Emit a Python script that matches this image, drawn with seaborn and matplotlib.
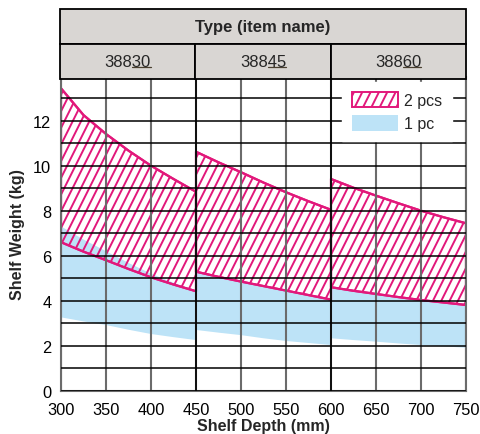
import numpy as np
import pandas as pd
import matplotlib
matplotlib.use("Agg")
import matplotlib.pyplot as plt
import matplotlib.hatch as mhatch
from matplotlib.path import Path
from matplotlib.patches import Patch, Rectangle
import seaborn as sns

# ---------------- data ----------------
types = ["38830", "38845", "38860"]
type_prefix = "388"
type_bounds = [300, 450, 600, 750]

depth_30 = [300, 325, 350, 375, 400, 425, 450]
two_hi_30 = [13.44, 12.25, 11.41, 10.67, 10.00, 9.41, 8.84]
two_lo_30 = [6.60, 6.18, 5.80, 5.41, 5.04, 4.72, 4.42]
one_hi_30 = [7.30, 6.72, 6.20, 5.68, 5.20, 4.80, 4.45]
one_lo_30 = [3.26, 3.08, 2.92, 2.71, 2.52, 2.38, 2.25]

depth_45 = [450, 475, 500, 525, 550, 575, 600]
two_hi_45 = [10.62, 10.15, 9.71, 9.25, 8.82, 8.42, 8.04]
two_lo_45 = [5.29, 5.06, 4.85, 4.65, 4.45, 4.25, 4.05]
one_hi_45 = [5.32, 5.09, 4.88, 4.68, 4.48, 4.28, 4.08]
one_lo_45 = [2.70, 2.58, 2.47, 2.33, 2.21, 2.12, 2.03]

depth_60 = [600, 625, 650, 675, 700, 725, 750]
two_hi_60 = [9.41, 9.02, 8.67, 8.33, 8.00, 7.71, 7.44]
two_lo_60 = [4.60, 4.44, 4.30, 4.16, 4.03, 3.92, 3.81]
one_hi_60 = [4.63, 4.47, 4.33, 4.19, 4.06, 3.95, 3.85]
one_lo_60 = [2.33, 2.25, 2.18, 2.10, 2.03, 1.97, 1.91]

x_ticks = [300, 350, 400, 450, 500, 550, 600, 650, 700, 750]
y_ticks = [0, 2, 4, 6, 8, 10, 12]
legend_labels = ["2 pcs", "1 pc"]

MAGENTA = "#E2187B"
BLUE = "#BDE3F7"
HEADER = "#D9D6D3"
VGRID = "#6b6b6b"


# steep "/" hatch (about 63 degrees) replacing the default 45-degree one
class SteepHatch(mhatch.HatchPatternBase):
    def __init__(self, hatch, density):
        self.num_lines = int(hatch.count('/') * density)
        if self.num_lines:
            self.ks = np.arange(-(self.num_lines // 2) - 1, self.num_lines + 1)
        else:
            self.ks = np.array([])
        self.num_vertices = 2 * len(self.ks)

    def set_vertices_and_codes(self, vertices, codes):
        x0 = self.ks / self.num_lines
        vertices[0::2, 0] = x0
        vertices[0::2, 1] = 0.0
        vertices[1::2, 0] = x0 + 0.5
        vertices[1::2, 1] = 1.0
        codes[0::2] = Path.MOVETO
        codes[1::2] = Path.LINETO


_i = mhatch._hatch_types.index(mhatch.NorthEastHatch)
mhatch._hatch_types[_i] = SteepHatch

sns.set_theme(style="white")
plt.rcParams["font.family"] = ["Liberation Sans", "DejaVu Sans"]
plt.rcParams["hatch.color"] = MAGENTA
plt.rcParams["hatch.linewidth"] = 1.4

segments = [
    (types[0], depth_30, two_hi_30, two_lo_30, one_hi_30, one_lo_30),
    (types[1], depth_45, two_hi_45, two_lo_45, one_hi_45, one_lo_45),
    (types[2], depth_60, two_hi_60, two_lo_60, one_hi_60, one_lo_60),
]
rows = []
for t, d, th, tl, oh, ol in segments:
    for i in range(len(d)):
        rows.append(dict(type=t, depth=d[i], two_hi=th[i], two_lo=tl[i],
                         one_hi=oh[i], one_lo=ol[i]))
df = pd.DataFrame(rows)

W, H = 480, 435
fig = plt.figure(figsize=(W / 100, H / 100), dpi=100)

ax_l, ax_r, ax_b, ax_t = 61, 466, 391.7, 78
ax = fig.add_axes([ax_l / W, 1 - ax_b / H, (ax_r - ax_l) / W, (ax_b - ax_t) / H])
ax.set_facecolor("white")

for t, grp in df.groupby("type", sort=False):
    ax.fill_between(grp["depth"], grp["one_lo"], grp["one_hi"],
                    facecolor=BLUE, edgecolor="none", linewidth=0, zorder=1)
for t, grp in df.groupby("type", sort=False):
    ax.fill_between(grp["depth"], grp["two_lo"], grp["two_hi"],
                    facecolor="none", edgecolor=MAGENTA, hatch="//",
                    linewidth=1.6, zorder=1.2)

sns.lineplot(data=df, x="depth", y="two_hi", hue="type",
             palette=[MAGENTA] * 3, legend=False, ax=ax, linewidth=1.6, zorder=1.3)
sns.lineplot(data=df, x="depth", y="two_lo", hue="type",
             palette=[MAGENTA] * 3, legend=False, ax=ax, linewidth=1.6, zorder=1.3)

ax.set_xlim(type_bounds[0], type_bounds[-1])
ax.set_ylim(0, (ax_b - ax_t) / 22.5)
ax.set_xticks(x_ticks)
ax.set_xticklabels([str(v) for v in x_ticks], fontsize=11.8)
ax.set_yticks(y_ticks)
ax.set_yticklabels([str(v) for v in y_ticks], fontsize=11.8)
ax.set_yticks(np.arange(1, 14, 1), minor=True)
ax.tick_params(axis="x", which="both", length=0, pad=8, colors="black")
ax.tick_params(axis="y", which="both", length=0, pad=7, colors="black")

ax.set_axisbelow(False)
ax.grid(axis="y", which="both", color="black", linewidth=1.1, zorder=2.5)
ax.grid(axis="x", which="major", color=VGRID, linewidth=1.5, zorder=2.5)
for b in type_bounds[1:-1]:
    ax.axvline(b, color="black", linewidth=1.2, zorder=2.6)
for s in ["left", "right", "bottom"]:
    ax.spines[s].set_color(VGRID)
    ax.spines[s].set_linewidth(1.5)
ax.spines["top"].set_visible(False)

ax.set_xlabel("Shelf Depth (mm)", fontsize=11.5, fontweight="bold", labelpad=1)
ax.set_ylabel("Shelf Weight (kg)", fontsize=11.5, fontweight="bold", labelpad=6)

handles = [Patch(facecolor="white", edgecolor=MAGENTA, hatch="//", linewidth=1.4),
           Patch(facecolor=BLUE, edgecolor="none")]
leg = ax.legend(handles, legend_labels, loc="upper right",
                bbox_to_anchor=((452 - ax_l) / (ax_r - ax_l), 1 - (83 - ax_t) / (ax_b - ax_t)),
                borderaxespad=0, frameon=True, fancybox=False, framealpha=1,
                edgecolor="white", facecolor="white", fontsize=11.5,
                handlelength=2.9, handleheight=1.15, labelspacing=0.45,
                handletextpad=0.4, borderpad=0.6)
leg.set_zorder(5)

# ---------------- header table ----------------
hx0, hx1, hy0, hy1 = 60, 466, 10, 80
hax = fig.add_axes([hx0 / W, 1 - hy1 / H, (hx1 - hx0) / W, (hy1 - hy0) / H])
hax.set_xlim(type_bounds[0], type_bounds[-1])
hax.set_ylim(0, 2)
hax.axis("off")
hax.add_patch(Rectangle((type_bounds[0], 1), type_bounds[-1] - type_bounds[0], 1,
                        facecolor=HEADER, edgecolor="black", linewidth=1.3, clip_on=False))
hax.text((type_bounds[0] + type_bounds[-1]) / 2, 1.5, "Type (item name)",
         ha="center", va="center", fontsize=12, fontweight="bold")
renderer = fig.canvas.get_renderer()
for i, t in enumerate(types):
    a, b = type_bounds[i], type_bounds[i + 1]
    hax.add_patch(Rectangle((a, 0), b - a, 1, facecolor=HEADER, edgecolor="black",
                            linewidth=1.3, clip_on=False))
    cx = (a + b) / 2
    txt = hax.text(cx, 0.5, t, ha="center", va="center", fontsize=12)
    tmp = hax.text(cx, 0.5, type_prefix, ha="center", va="center", fontsize=12)
    full_bb = txt.get_window_extent(renderer)
    pre_bb = tmp.get_window_extent(renderer)
    tmp.remove()
    inv = hax.transData.inverted()
    x_start = inv.transform((full_bb.x0 + pre_bb.width, 0))[0]
    x_end = inv.transform((full_bb.x1, 0))[0]
    y_ul = inv.transform((0, full_bb.y0 + 2.5))[1]
    hax.plot([x_start, x_end], [y_ul, y_ul], color="#4a4030", linewidth=0.9)

fig.savefig("out.png", dpi=100)
